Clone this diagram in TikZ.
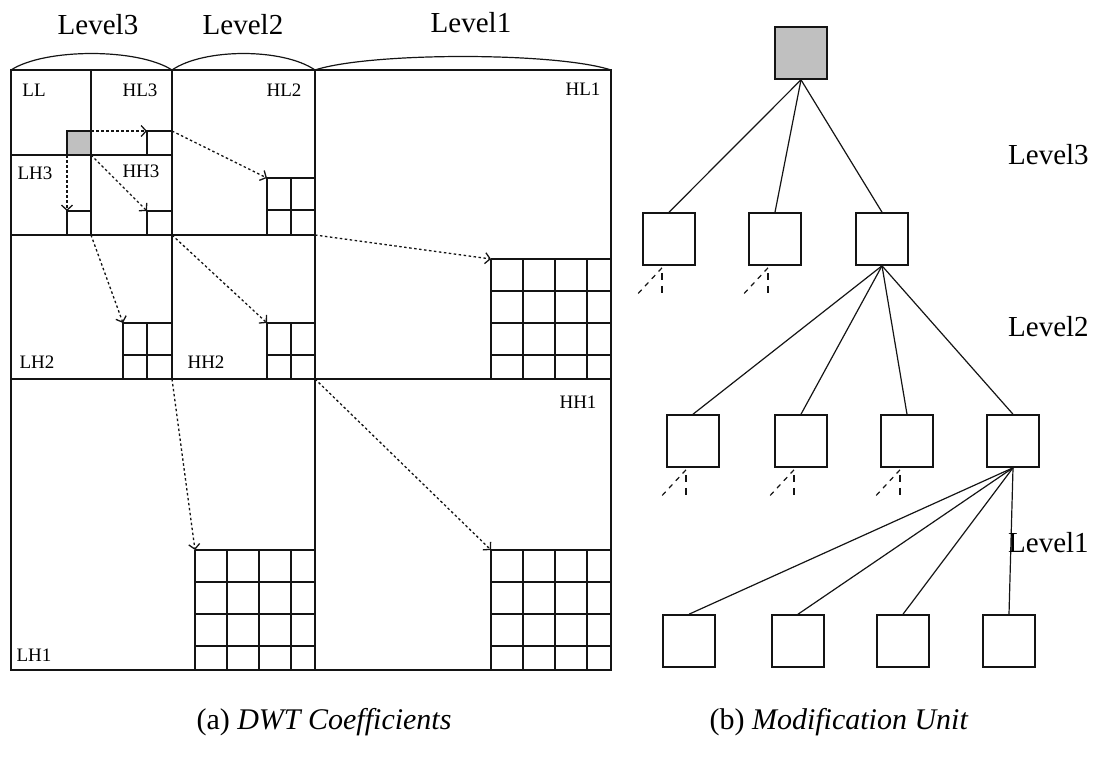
\documentclass[tikz,border=0pt]{standalone}
\usepackage{fontspec}
\setmainfont{Liberation Serif}
\usetikzlibrary{arrows.meta,positioning}
\definecolor{cellgray}{RGB}{192,192,192}
\definecolor{lineblack}{RGB}{20,20,20}

\begin{document}
\begin{tikzpicture}[
  x=1pt, y=-1pt,
  band/.style={draw=lineblack, line width=1.6pt},
  blk/.style={rectangle, inner sep=0pt, outer sep=0pt, anchor=north west},
  link/.style={-{Straight Barb[length=5pt,width=11pt]}, dash pattern=on 2.5pt off 2.5pt, line width=1.3pt, draw=lineblack},
  unit/.style={rectangle, draw=lineblack, line width=1.6pt, minimum size=52pt, inner sep=0pt},
  edge/.style={draw=lineblack, line width=1.2pt},
  stub/.style={draw=lineblack, dash pattern=on 7pt off 6pt, line width=1.2pt},
  tag/.style={font=\fontsize{19}{19}\selectfont, inner sep=0pt},
  lvl/.style={font=\fontsize{29}{29}\selectfont, inner sep=0pt},
  captext/.style={font=\fontsize{30}{30}\selectfont, inner sep=0pt}
]
\useasboundingbox (0,0) rectangle (1099,756);

\draw[band] (11,70) rectangle (611,670);
\draw[band] (315,70) -- (315,670) (11,379) -- (611,379);
\draw[band] (172,70) -- (172,379) (11,235) -- (315,235);
\draw[band] (91,70) -- (91,235) (11,155) -- (172,155);

\draw[edge] (11,70) .. controls (45,48) and (138,48) .. (172,70);
\draw[edge] (172,70) .. controls (204,48) and (283,48) .. (315,70);
\draw[edge] (315,70) .. controls (370,52) and (556,52) .. (611,70);
\node[lvl] (top3) at (98,25) {Level3};
\node[lvl] (top2) at (243,25) {Level2};
\node[lvl] (top1) at (471,23) {Level1};

\node[tag] (tLL) at (34,90) {LL};
\node[tag] (tHL3) at (140,90) {HL3};
\node[tag] (tLH3) at (35,173) {LH3};
\node[tag] (tHH3) at (141,171) {HH3};
\node[tag] (tHL2) at (284,90) {HL2};
\node[tag] (tLH2) at (37,362) {LH2};
\node[tag] (tHH2) at (206,362) {HH2};
\node[tag] (tHL1) at (583,89) {HL1};
\node[tag] (tHH1) at (578,402) {HH1};
\node[tag] (tLH1) at (34,655) {LH1};

\node[blk, fill=cellgray, draw=lineblack, line width=1.6pt, minimum width=24pt, minimum height=24pt] (c3) at (67,131) {};
\node[blk, minimum width=25pt, minimum height=24pt] (hl3) at (147,131) {};
\node[blk, minimum width=24pt, minimum height=24pt] (lh3) at (67,211) {};
\node[blk, minimum width=25pt, minimum height=24pt] (hh3) at (147,211) {};
\foreach \b in {hl3,lh3,hh3}
  \draw[band] (\b.south west) |- (\b.north east);

\node[blk, minimum width=48pt, minimum height=57pt] (hl2) at (267,178) {};
\node[blk, minimum width=49pt, minimum height=56pt] (lh2) at (123,323) {};
\node[blk, minimum width=48pt, minimum height=56pt] (hh2) at (267,323) {};
\foreach \b in {hl2,lh2,hh2} {
  \draw[band] (\b.south west) |- (\b.north east);
  \draw[band] ([xshift=24pt]\b.north west) -- ([xshift=24pt]\b.south west);
  \draw[band] ([yshift=-32pt]\b.north west) -- ([yshift=-32pt]\b.north east);
}

\node[blk, minimum width=120pt, minimum height=120pt] (hl1) at (491,259) {};
\node[blk, minimum width=120pt, minimum height=120pt] (lh1) at (195,550) {};
\node[blk, minimum width=120pt, minimum height=120pt] (hh1) at (491,550) {};
\foreach \b in {hl1,lh1,hh1}
  \foreach \k in {0,32,64,96} {
    \draw[band] ([xshift=\k pt]\b.north west) -- ([xshift=\k pt]\b.south west);
    \draw[band] ([yshift=-\k pt]\b.north west) -- ([yshift=-\k pt]\b.north east);
  }

\foreach \a/\b in {c3.north east/hl3.north west, c3.south west/lh3.north west, c3.south east/hh3.north west,
                   hl3.north east/hl2.north west, lh3.south east/lh2.north west, hh3.south east/hh2.north west,
                   hl2.south east/hl1.north west, lh2.south east/lh1.north west, hh2.south east/hh1.north west}
  \draw[link] (\a) -- (\b);

\node[unit, fill=cellgray] (root) at (801,53) {};
\foreach \n/\x in {a1/669, a2/775, a3/882}
  \node[unit] (\n) at (\x,239) {};
\foreach \n/\x in {b1/693, b2/801, b3/907, b4/1013}
  \node[unit] (\n) at (\x,441) {};
\foreach \n/\x in {d1/689, d2/798, d3/903, d4/1009}
  \node[unit] (\n) at (\x,641) {};

\foreach \c in {a1,a2,a3}
  \draw[edge] (root.south) -- (\c.north);
\foreach \c in {b1,b2,b3,b4}
  \draw[edge] (a3.south) -- (\c.north);
\foreach \c in {d1,d2,d3,d4}
  \draw[edge] (b4.south) -- (\c.north);

\foreach \c in {a1,a2,b1,b2,b3} {
  \draw[stub, dash phase=8pt] ([xshift=-7pt,yshift=-2pt]\c.south) -- +(0,29);
  \draw[stub, dash pattern=on 5pt off 5pt] ([xshift=-7pt,yshift=-2pt]\c.south) -- +(-26,28);
}

\node[lvl, anchor=west] (r3) at (1008,155) {Level3};
\node[lvl, anchor=west] (r2) at (1008,327) {Level2};
\node[lvl, anchor=west] (r1) at (1008,543) {Level1};

\node[captext] (capa) at (324,722) {(a) \textit{DWT Coefficients}};
\node[captext] (capb) at (839,722) {(b) \textit{Modification Unit}};
\end{tikzpicture}
\end{document}
